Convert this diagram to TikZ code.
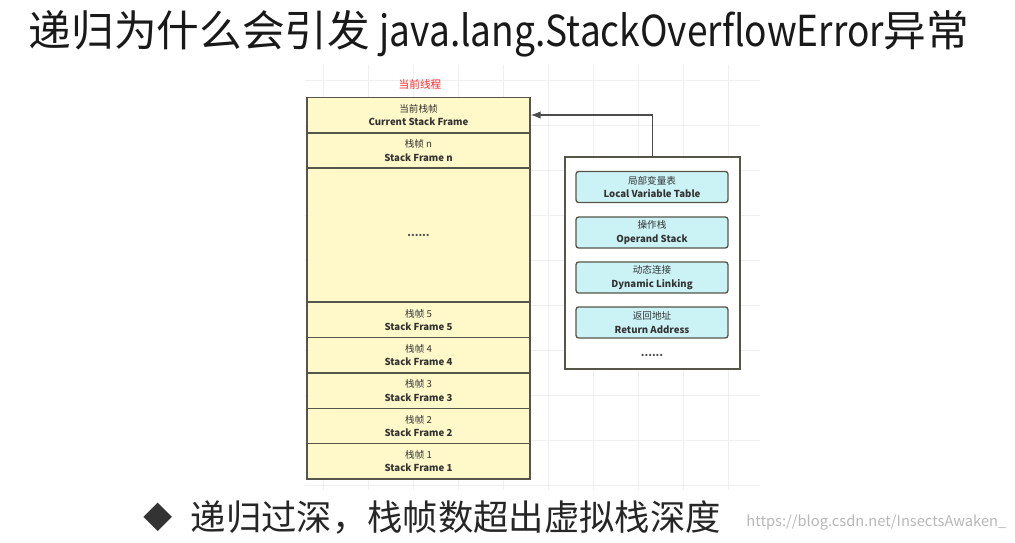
\documentclass[tikz,border=0pt]{standalone}
\usepackage{fontspec}
\setmainfont{Noto Sans CJK SC}
\usetikzlibrary{arrows.meta}
\definecolor{framefill}{HTML}{FFF9C9}
\definecolor{framedraw}{HTML}{55554A}
\definecolor{partfill}{HTML}{CBF3F6}
\definecolor{gridline}{HTML}{EFEFEF}
\begin{document}
\begin{tikzpicture}[x=0.75pt,y=-0.75pt]
	\tikzset{>=Latex}
	\tikzset{
		frame/.style={draw=framedraw, line width=1pt, fill=framefill, minimum width=167.25pt,
			minimum height=26.5pt, inner sep=0pt, align=center, text=black!80,
			font=\fontsize{7.2}{10}\selectfont},
		part/.style={draw=framedraw, line width=1pt, fill=partfill, rounded corners=2pt,
			minimum width=114pt, minimum height=23.25pt, inner sep=0pt, align=center,
			text=black!80, font=\fontsize{7.2}{10}\selectfont},
		dots/.style={font=\fontsize{8}{8}\selectfont\bfseries, text=black!70}
	}
	\useasboundingbox (0,0) rectangle (1015,543);
	\fill[white] (0,0) rectangle (1015,543);
	% background grid
	\foreach \x in {323,368,...,728} \draw[gridline] (\x,65) -- (\x,490);
	\foreach \y in {80,125,...,485} \draw[gridline] (305,\y) -- (760,\y);

	\node[anchor=west, font=\fontsize{32}{32}\selectfont, text=black!90] (title) at (24,34)
		{递归为什么会引发 \scalebox{0.87}[1]{java.lang.StackOverflowError}异常};
	\node[text=red!85, font=\fontsize{8}{8}\selectfont] (thread) at (420,84) {当前线程};

	% stack
	\node[frame] (cur) at (418.5,115) {当前栈帧\\\textbf{Current Stack Frame}};
	\node[frame] (sfn) at (418.5,150.5) {栈帧 n\\\textbf{Stack Frame n}};
	\node[frame, minimum height=100.5pt] (more) at (418.5,235) {};
	\node[dots] (moredots) at (more) {......};
	\foreach \i [count=\k] in {5,4,3,2,1}
		\node[frame] (sf\i) at (418.5,284.3+35.4*\k) {栈帧 \i\\\textbf{Stack Frame \i}};

	% frame parts
	\node[draw=framedraw, line width=1pt, fill=white, minimum width=131.25pt,
		minimum height=159pt] (locals) at (652.5,263) {};
	\node[part] (lvt) at (652,187) {局部变量表\\\textbf{Local Variable Table}};
	\node[part] (ops) at (652,232.5) {操作栈\\\textbf{Operand Stack}};
	\node[part] (dyn) at (652,277.5) {动态连接\\\textbf{Dynamic Linking}};
	\node[part] (ret) at (652,322.5) {返回地址\\\textbf{Return Address}};
	\node[dots] (partdots) at (652,355) {......};

	\draw[->, draw=black!70, line width=1pt] (locals.north) |- (cur.east);

	\node[font=\fontsize{22}{22}\selectfont, text=black!80] (bullet) at (158,517) {◆};
	\node[anchor=west, font=\fontsize{26.5}{26.5}\selectfont, text=black!85] (note) at (186,517)
		{递归过深，栈帧数超出虚拟栈深度};
	\node[anchor=east, font=\fontsize{11}{11}\selectfont, text=black!28] (mark) at (1011,522)
		{https://blog.csdn.net/InsectsAwaken\_};
\end{tikzpicture}
\end{document}
